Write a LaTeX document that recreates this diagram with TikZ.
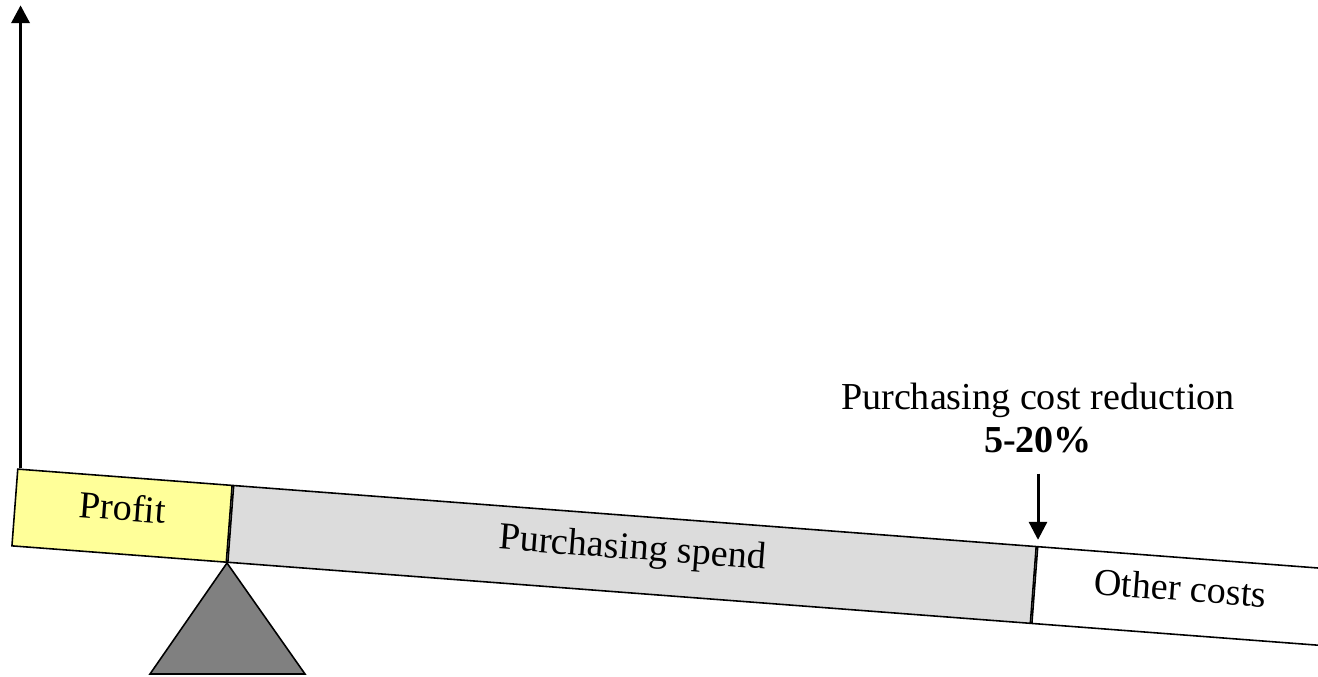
\documentclass[tikz,border=0pt]{standalone}
\usepackage{fontspec}
\setmainfont{Liberation Serif}
\usepackage{xcolor}
\usepackage{tikz}
\usetikzlibrary{arrows.meta}
\usetikzlibrary{positioning}

\definecolor{profitfill}{RGB}{255,255,153}
\definecolor{spendfill}{RGB}{220,220,220}
\definecolor{fulcrumfill}{RGB}{128,128,128}

\begin{document}
\begin{tikzpicture}[x=0.02cm, y=-0.02cm, font=\fontsize{21.7}{24.5}\selectfont]

\tikzstyle{segment} = [draw, line width=0.9pt, minimum height=1.54cm, inner sep=0pt, text height=0.62em, text depth=0.08em]
\tikzstyle{bigarrow} = [line width=2.2pt, -{Triangle[length=0.36cm, width=0.36cm]}]
\tikzstyle{smallarrow} = [line width=1.7pt, -{Triangle[length=0.36cm, width=0.36cm]}]

\useasboundingbox (0,0) rectangle (1318,676);
\clip (0,0) rectangle (1318,676);

% the tilted beam, turned round the fulcrum
\begin{scope}[shift={(227,563)}, rotate=-4.35, transform shape]
\node[segment] (1) [fill=profitfill, minimum width=4.3cm, anchor=south east] at (0,0) {Profit};
\node[segment] (2) [fill=spendfill, minimum width=16.1cm, right=0pt of 1] {Purchasing spend};
\node[segment] (3) [fill=white, minimum width=5.82cm, right=0pt of 2] {Other costs};
\end{scope}

\draw[fill=fulcrumfill, line width=0.9pt] (1.south east) -- ++(-77,111) -- ++(155,0) -- cycle;

\draw[bigarrow] ([xshift=0.07cm]1.north west) -- ++(0,-463);

\node (4) [anchor=base] at (1038,409) {Purchasing cost reduction};
\node (5) [anchor=base, font=\fontsize{21.7}{24.5}\selectfont\bfseries] at (1038,452) {5-20\%};

\draw[smallarrow, shorten <=0.3cm, shorten >=0.12cm] (5.south) -- (5.south |- 2.north east);
\end{tikzpicture}
\end{document}
